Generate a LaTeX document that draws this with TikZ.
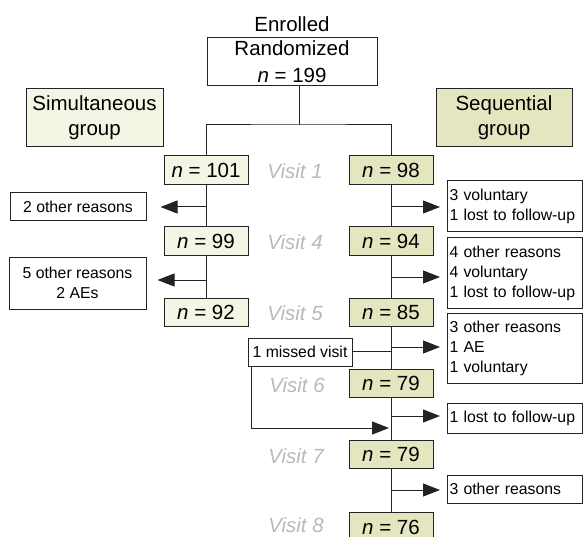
\documentclass[tikz,border=0pt]{standalone}
\usepackage{fontspec}
\setmainfont{Liberation Sans}
\usetikzlibrary{arrows.meta}
\definecolor{simfill}{RGB}{244,245,228}
\definecolor{seqfill}{RGB}{228,230,192}
\definecolor{visitgray}{RGB}{185,185,185}
\definecolor{linec}{RGB}{35,35,35}
\begin{document}
\begin{tikzpicture}[x=1pt,y=-1pt,
  big/.style={font=\fontsize{20.5}{27}\selectfont},
  small/.style={font=\fontsize{15.8}{20}\selectfont},
  conn/.style={line width=1pt, draw=linec},
  arr/.style={conn, -{Triangle[length=17pt,width=13pt]}},
  countbox/.style={draw=linec, line width=1pt, minimum width=84pt, minimum height=28.5pt, inner sep=0pt, big},
  simbox/.style={countbox, fill=simfill},
  seqbox/.style={countbox, fill=seqfill},
  groupbox/.style={draw=linec, line width=1pt, minimum height=58pt, inner sep=0pt, align=center, font=\fontsize{20.5}{25}\selectfont},
  visit/.style={text=visitgray, font=\fontsize{20.5}{25}\selectfont\itshape},
  exitR/.style={draw=linec, line width=1pt, small, align=left, text width=131pt, inner xsep=2pt, inner ysep=0pt, anchor=west},
  exitL/.style={draw=linec, line width=1pt, small, align=center, inner sep=0pt}
]
\useasboundingbox (0,0) rectangle (583,537);

% top
\node[big] (enr) at (292,24) {Enrolled};
\node[draw=linec, line width=1pt, minimum width=170pt, minimum height=48pt, inner sep=0pt, align=center, big] (rand) at (292,62) {Randomized\\\textit{n} = 199};
\node[groupbox, fill=simfill, minimum width=137pt] (sim) at (94.5,118) {Simultaneous\\group};
\node[groupbox, fill=seqfill, minimum width=136pt] (seq) at (504,118) {Sequential\\group};

% count boxes
\node[simbox] (L1) at (206,170) {\textit{n} = 101};
\node[seqbox] (R1) at (391,170) {\textit{n} = 98};
\node[visit] (V1) at (295,171) {Visit 1};
\node[simbox] (L4) at (206,241) {\textit{n} = 99};
\node[seqbox] (R4) at (391,241) {\textit{n} = 94};
\node[visit] (V4) at (295,242) {Visit 4};
\node[simbox] (L5) at (206,312.5) {\textit{n} = 92};
\node[seqbox] (R5) at (391,312.5) {\textit{n} = 85};
\node[visit] (V5) at (295,313) {Visit 5};
\node[seqbox] (R6) at (391,383.5) {\textit{n} = 79};
\node[visit] (V6) at (297,385) {Visit 6};
\node[seqbox] (R7) at (391,454.5) {\textit{n} = 79};
\node[visit] (V7) at (296,456) {Visit 7};
\node[seqbox] (R8) at (391,527) {\textit{n} = 76};
\node[visit] (V8) at (296,525.5) {Visit 8};

% exit boxes left
\node[exitL, minimum width=136pt, minimum height=28pt] (eL1) at (78,207) {2 other reasons};
\node[exitL, minimum width=137pt, minimum height=52pt] (eL2) at (77.5,283) {5 other reasons\\2 AEs};

% exit boxes right
\node[exitR, minimum height=51pt] (eR1) at (447,206.5) {\mbox{3 voluntary}\\\mbox{1 lost to follow-up}};
\node[exitR, minimum height=70pt] (eR2) at (447,273) {\mbox{4 other reasons}\\\mbox{4 voluntary}\\\mbox{1 lost to follow-up}};
\node[exitR, minimum height=70pt] (eR3) at (447,348) {\mbox{3 other reasons}\\\mbox{1 AE}\\\mbox{1 voluntary}};
\node[exitR, minimum height=30pt] (eR4) at (447,418) {\mbox{1 lost to follow-up}};
\node[exitR, minimum height=28pt] (eR5) at (447,489) {\mbox{3 other reasons}};

% missed visit
\node[exitL, minimum width=104pt, minimum height=28pt] (miss) at (300,352) {1 missed visit};

% junction coordinates
\coordinate (split) at (299,125);
\coordinate (jl1) at (206,207);
\coordinate (jl2) at (206,280);
\coordinate (jr1) at (391,207);
\coordinate (jr2) at (391,277);
\coordinate (jr3) at (391,347);
\coordinate (jr4) at (391,416);
\coordinate (jr5) at (391,490);
\coordinate (jr6) at (391,428);

% split
\draw[conn] ([xshift=7pt]rand.south) -- (split);
\draw[conn] (L1.north) |- (split) -| (R1.north);

% columns
\draw[conn] (L1.south) -- (L4.north);
\draw[conn] (L4.south) -- (L5.north);
\draw[conn] (R1.south) -- (R4.north);
\draw[conn] (R4.south) -- (R5.north);
\draw[conn] (R5.south) -- (R6.north);
\draw[conn] (R6.south) -- (R7.north);
\draw[conn] (R7.south) -- (R8.north);

% exits
\draw[arr, shorten >=14pt] (jl1) -- (jl1 -| eL1.east);
\draw[arr, shorten >=11pt] (jl2) -- (jl2 -| eL2.east);
\draw[arr, shorten >=7pt] (jr1) -- (jr1 -| eR1.west);
\draw[arr, shorten >=7pt] (jr2) -- (jr2 -| eR2.west);
\draw[arr, shorten >=7pt] (jr3) -- (jr3 -| eR3.west);
\draw[arr, shorten >=7pt] (jr4) -- (jr4 -| eR4.west);
\draw[arr, shorten >=7pt] (jr5) -- (jr5 -| eR5.west);

% missed visit
\draw[conn] ([yshift=1pt]miss.east) -- ([yshift=1pt]miss.east -| R5.south);
\draw[arr, shorten >=2pt] ([xshift=4pt]miss.south west) |- (jr6);
\end{tikzpicture}
\end{document}
